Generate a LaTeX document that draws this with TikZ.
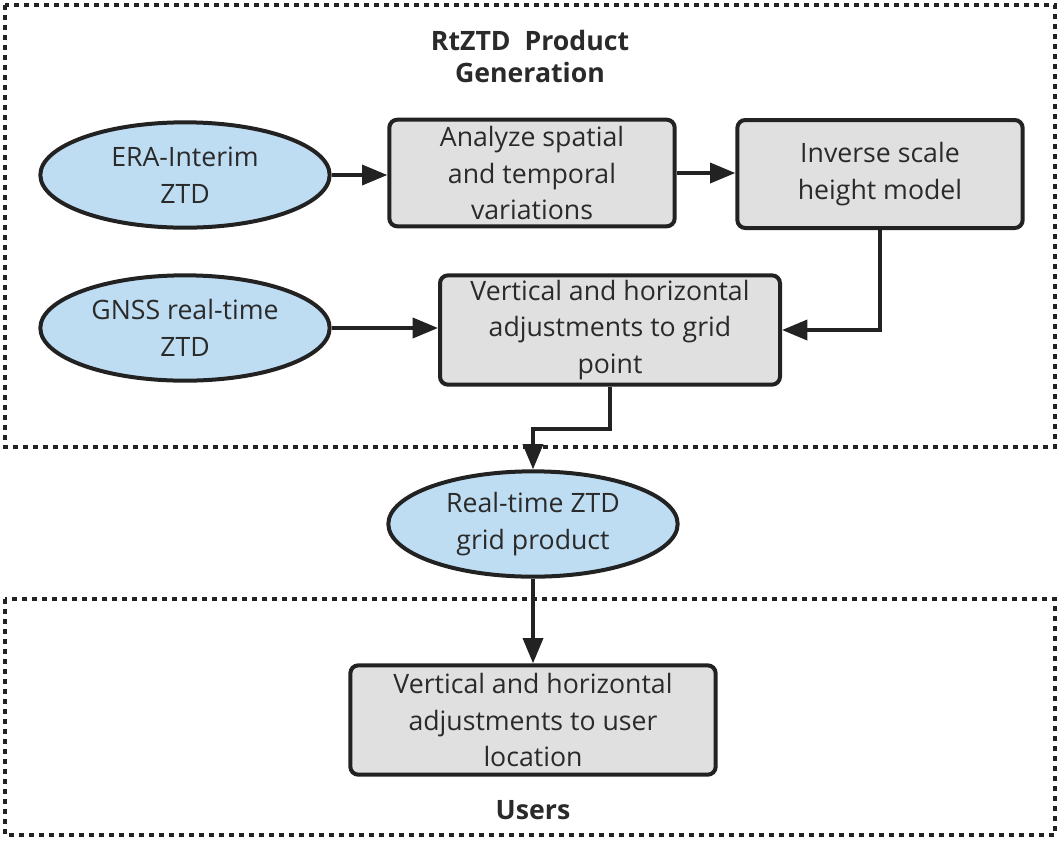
\documentclass[tikz,border=0pt]{standalone}
\usepackage{fontspec}
\setmainfont{Open Sans}
\usetikzlibrary{shapes.geometric,arrows.meta}
\definecolor{inkc}{HTML}{222222}
\definecolor{txtc}{HTML}{2A2A2A}
\definecolor{bluefill}{HTML}{BEDDF2}
\definecolor{greyfill}{HTML}{E0E0E0}
\tikzset{
  lbl/.style={font=\fontsize{20}{27.5}\selectfont, text=txtc, align=center},
  datanode/.style={lbl, ellipse, draw=inkc, line width=3pt, fill=bluefill,
    inner sep=0pt, minimum width=217pt, minimum height=79pt},
  procbox/.style={lbl, rectangle, rounded corners=6pt, draw=inkc, line width=3pt,
    fill=greyfill, inner sep=2pt},
  arr/.style={draw=inkc, line width=2.8pt, -{Triangle[length=19pt,width=15pt]}},
  region/.style={draw=inkc, line width=3.5pt, dash pattern=on 4pt off 3.5pt},
  heading/.style={font=\fontsize{20}{24}\selectfont\bfseries, text=txtc, align=center}
}
\begin{document}
\begin{tikzpicture}[x=0.75pt,y=-0.75pt]
  \useasboundingbox (0,0) rectangle (1059,840);
  \fill[white] (0,0) rectangle (1059,840);

  % dashed regions
  \draw[region] (5,5) rectangle (1055,447);
  \draw[region] (5,599) rectangle (1055,835);

  % headings
  \node[heading] (gentitle) at (530,56) {RtZTD\ \ Product\\Generation};
  \node[heading] (usertitle) at (533,810) {Users};

  % inputs and product
  \node[datanode] (era) at (185,175) {ERA-Interim\\ZTD};
  \node[datanode] (gnss) at (185,328) {GNSS real-time\\ZTD};
  \node[datanode] (rt) at (533,524) {Real-time ZTD\\grid product};

  % processing steps
  \node[procbox, minimum width=214pt, minimum height=80pt] (ana) at (532,173)
    {Analyze spatial\\and temporal\\variations};
  \node[procbox, minimum width=214pt, minimum height=81pt] (inv) at (880,174)
    {Inverse scale\\height model};
  \node[procbox, minimum width=255pt, minimum height=82pt] (grid) at (610,330)
    {Vertical and horizontal\\adjustments to grid\\point};
  \node[procbox, minimum width=274pt, minimum height=82pt] (user) at (533,720)
    {Vertical and horizontal\\adjustments to user\\location};

  % connectors
  \draw[arr] (era.east) -- (era.east -| ana.west);
  \draw[arr] (ana.east) -- (ana.east -| inv.west);
  \draw[arr] (inv.south) |- (grid.east);
  \draw[arr] (gnss.east) -- (gnss.east -| grid.west);
  \draw[arr] (grid.south) -- ++(0,42) -| (rt.north);
  \draw[arr] (rt.south) -- (user.north);
\end{tikzpicture}
\end{document}
